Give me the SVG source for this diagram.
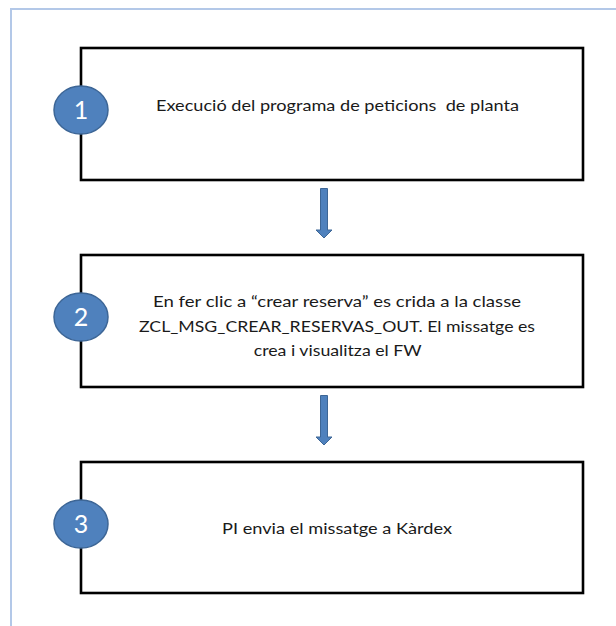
<svg xmlns="http://www.w3.org/2000/svg" width="616" height="626" viewBox="0 0 616 626">
<style>
.frame{fill:none;stroke:#b3c8e8;stroke-width:2}
.box{fill:#ffffff;stroke:#000000;stroke-width:2.6}
.badge{fill:#4f81bd;stroke:#3d6696;stroke-width:1.5}
.num{font-family:Lato,"Liberation Sans",sans-serif;font-size:25px;fill:#ffffff;text-anchor:middle}
.lbl{font-family:Lato,"Liberation Sans",sans-serif;font-size:15px;fill:#1a1a1a;text-anchor:middle;white-space:pre}
.arrow{fill:#4f81bd;stroke:#3d6696;stroke-width:1}
</style>
<rect width="616" height="626" fill="#ffffff"/>
<path class="frame" d="M11,626 V9 H616"/>
<g id="connectors">
<path class="arrow" d="M320.5,188.5 H327.5 V230 H332 L324,238 L316,230 H320.5 Z"/>
<path class="arrow" d="M320.5,395.5 H327.5 V437 H332 L324,445 L316,437 H320.5 Z"/>
</g>
<g id="step1">
<rect class="box" x="81" y="48" width="502" height="132"/>
<ellipse class="badge" cx="81" cy="110" rx="27" ry="24"/>
<text class="num" x="81" y="119">1</text>
<text class="lbl" x="337.5" y="110.5" textLength="363" lengthAdjust="spacingAndGlyphs">Execució del programa de peticions  de planta</text>
</g>
<g id="step2">
<rect class="box" x="81" y="255" width="502" height="132"/>
<ellipse class="badge" cx="81" cy="317" rx="27" ry="24"/>
<text class="num" x="81" y="326">2</text>
<text class="lbl" x="337" y="307" textLength="368" lengthAdjust="spacingAndGlyphs">En fer clic a “crear reserva” es crida a la classe</text>
<text class="lbl" x="337" y="331.5" textLength="396" lengthAdjust="spacingAndGlyphs">ZCL_MSG_CREAR_RESERVAS_OUT. El missatge es</text>
<text class="lbl" x="337.7" y="356" textLength="168" lengthAdjust="spacingAndGlyphs">crea i visualitza el FW</text>
</g>
<g id="step3">
<rect class="box" x="81" y="462" width="502" height="131"/>
<ellipse class="badge" cx="81" cy="524" rx="27" ry="24"/>
<text class="num" x="81" y="533">3</text>
<text class="lbl" x="337" y="534" textLength="230" lengthAdjust="spacingAndGlyphs">PI envia el missatge a Kàrdex</text>
</g>
</svg>
